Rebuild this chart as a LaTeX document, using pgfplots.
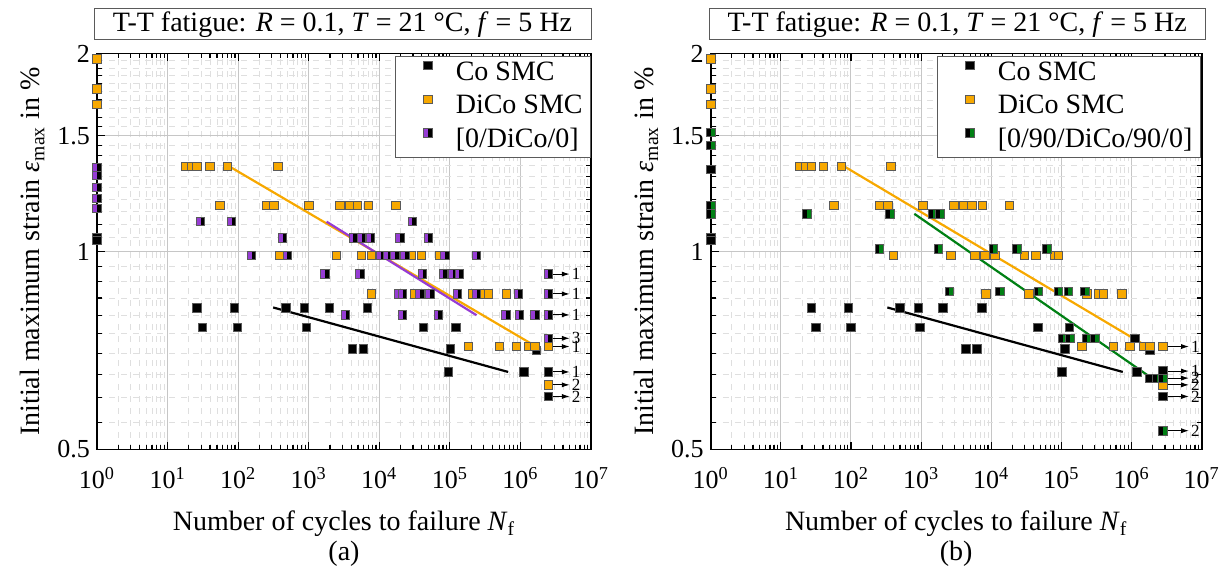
\documentclass[border=0pt]{standalone}
\usepackage{fontspec}
\setmainfont{Liberation Serif}
\usepackage{pgfplots}
\pgfplotsset{compat=1.18}
\usetikzlibrary{arrows.meta}
\definecolor{dicoOrange}{RGB}{247,168,0}
\definecolor{lamPurple}{RGB}{150,60,212}
\definecolor{lamGreen}{RGB}{0,128,20}
\definecolor{edgeGray}{RGB}{90,90,90}
\pgfdeclareplotmark{purpleblack}{%
  \pgfpathrectangle{\pgfpoint{-\pgfplotmarksize}{-\pgfplotmarksize}}{\pgfpoint{\pgfplotmarksize}{2\pgfplotmarksize}}%
  \pgfsetfillcolor{lamPurple}\pgfusepathqfill
  \pgfpathrectangle{\pgfpoint{0pt}{-\pgfplotmarksize}}{\pgfpoint{\pgfplotmarksize}{2\pgfplotmarksize}}%
  \pgfsetfillcolor{black}\pgfusepathqfill
  \pgfpathrectangle{\pgfpoint{-\pgfplotmarksize}{-\pgfplotmarksize}}{\pgfpoint{2\pgfplotmarksize}{2\pgfplotmarksize}}%
  \pgfusepathqstroke}
\pgfdeclareplotmark{blackgreen}{%
  \pgfpathrectangle{\pgfpoint{-\pgfplotmarksize}{-\pgfplotmarksize}}{\pgfpoint{\pgfplotmarksize}{2\pgfplotmarksize}}%
  \pgfsetfillcolor{black}\pgfusepathqfill
  \pgfpathrectangle{\pgfpoint{0pt}{-\pgfplotmarksize}}{\pgfpoint{\pgfplotmarksize}{2\pgfplotmarksize}}%
  \pgfsetfillcolor{lamGreen}\pgfusepathqfill
  \pgfpathrectangle{\pgfpoint{-\pgfplotmarksize}{-\pgfplotmarksize}}{\pgfpoint{2\pgfplotmarksize}{2\pgfplotmarksize}}%
  \pgfusepathqstroke}
\newcommand{\tickfs}{\fontsize{13}{15}\selectfont}
\newcommand{\labfs}{\fontsize{14}{15}\selectfont}
\newcommand{\runout}[4]{\draw[line width=0.55pt,-{Latex[length=4pt,width=2.6pt]}] (axis cs:#1,#3) -- (axis cs:#2,#3) node[right,inner sep=0.8pt,font=\fontsize{8.5}{9}\selectfont]{#4};}
\newcommand{\titletext}{T-T fatigue: \textit{R} = 0.1, \textit{T} = 21 °C, \textit{f} = 5 Hz}
\newcommand{\legsq}[2]{\path[draw=none,fill=none] (0pt,0pt) -- (26pt,0pt);
  \fill[#1,draw=none] (11.9pt,1.7pt) rectangle (14pt,5.9pt);
  \fill[#2,draw=none] (14pt,1.7pt) rectangle (16.1pt,5.9pt);
  \draw[edgeGray,line width=0.4pt,fill=none] (11.9pt,1.7pt) rectangle (16.1pt,5.9pt);}
\begin{document}
\begin{tikzpicture}
\useasboundingbox (0,0) rectangle (615pt,286.5pt);
% ---------------- (a) ----------------
\begin{axis}[
    xmode=log, ymode=log, xmin=1, xmax=1e7, ymin=0.5, ymax=2,
    scale only axis, width=247pt, height=198pt, anchor=south west, at={(48.5pt,61.75pt)},
    xtick={1,10,100,1000,10000,100000,1000000,10000000},
    xticklabels={10\textsuperscript{0},10\textsuperscript{1},10\textsuperscript{2},10\textsuperscript{3},10\textsuperscript{4},10\textsuperscript{5},10\textsuperscript{6},10\textsuperscript{7}},
    minor xtick={2,3,4,5,6,7,8,9,20,30,40,50,60,70,80,90,200,300,400,500,600,700,800,900,2000,3000,4000,5000,6000,7000,8000,9000,2e4,3e4,4e4,5e4,6e4,7e4,8e4,9e4,2e5,3e5,4e5,5e5,6e5,7e5,8e5,9e5,2e6,3e6,4e6,5e6,6e6,7e6,8e6,9e6},
    ytick={0.5,1,1.5,2}, yticklabels={0.5,1,1.5,2},
    minor ytick={0.55,0.6,0.65,0.7,0.75,0.8,0.85,0.9,0.95,1.05,1.1,1.15,1.2,1.25,1.3,1.35,1.4,1.45,1.55,1.6,1.65,1.7,1.75,1.8,1.85,1.9,1.95},
    grid=both,
    major grid style={gray!45, line width=0.5pt},
    minor grid style={gray!25, dashed, line width=0.35pt},
    tick align=inside, major tick length=4pt, minor tick length=2.5pt,
    tick style={black, line width=0.6pt},
    axis line style={line width=0.8pt},
    tick label style={font=\tickfs},
    xticklabel style={yshift=-5.5pt},
    xlabel style={font=\labfs, align=center, at={(axis description cs:0.5,0)}, anchor=center, yshift=-44.75pt},
    ylabel style={font=\labfs, at={(axis description cs:-0.1305,0.5)}, anchor=center},
    xlabel={Number of cycles to failure \textit{N}\textsubscript{f}\\(a)},
    ylabel={Initial maximum strain \textit{ε}\textsubscript{max} in \%},
    legend style={at={(rel axis cs:1,1)}, anchor=north east, draw=edgeGray, fill=white, font=\fontsize{14}{15}\selectfont, row sep=0pt, inner xsep=2pt, inner ysep=0pt, yshift=-1.25pt, nodes={text height=10.3pt, text depth=3.3pt, inner ysep=1.6pt}},
    legend cell align=left,
    clip=false]
\addplot[only marks, mark=square*, mark size=2.1pt, mark options={fill=black, draw=edgeGray, line width=0.4pt},
  legend image code/.code={\legsq{black}{black}}] coordinates {
(1,1.05) (1,1.04)
(26.2,0.821) (88.1,0.821) (475,0.821) (864,0.821) (1952,0.821) (6830,0.821)
(31,0.766) (98.4,0.766) (934,0.766) (41870,0.766) (121600,0.766)
(4131,0.711) (5916,0.711) (102300,0.711) (1.69e6,0.707)
(94620,0.656) (1.117e6,0.656) (2.47e6,0.656)
(2.47e6,0.602)};
\addlegendentry{Co SMC}
\addplot[only marks, mark=square*, mark size=2.1pt, mark options={fill=dicoOrange, draw=edgeGray, line width=0.4pt},
  legend image code/.code={\legsq{dicoOrange}{dicoOrange}}] coordinates {
(1,1.963) (1,1.767) (1,1.675)
(18.2,1.347) (22.2,1.347) (26.1,1.347) (39.9,1.347) (71,1.347) (366,1.347)
(55.2,1.174) (253,1.174) (321,1.174) (1006,1.174) (2767,1.174) (3834,1.174) (4864,1.174) (6964,1.174) (17190,1.174)
(382,0.986) (2485,0.986) (5616,0.986) (7780,0.986) (28680,0.986) (39730,0.986) (72180,0.986)
(7780,0.862) (31210,0.862) (206900,0.862) (313200,0.862) (348800,0.862) (635500,0.862)
(181600,0.717) (499200,0.717) (880700,0.717) (1.286e6,0.717) (1.6e6,0.717) (2.47e6,0.717)
(2.47e6,0.627)};
\addlegendentry{DiCo SMC}
\addplot[only marks, mark=purpleblack, mark size=2.1pt, mark options={draw=edgeGray, line width=0.4pt},
  legend image code/.code={\legsq{lamPurple}{black}}] coordinates {
(1,1.339) (1,1.305) (1,1.252) (1,1.205) (1,1.164)
(29.4,1.111) (80.9,1.111) (29240,1.111)
(427,1.048) (4268,1.048) (5616,1.048) (7530,1.048) (19570,1.048) (49280,1.048)
(155,0.986) (496,0.986) (10540,0.986) (13240,0.986) (16630,0.986) (23050,0.986) (84970,0.986) (238900,0.986)
(1696,0.924) (5313,0.924) (41050,0.924) (80380,0.924) (109200,0.924) (135400,0.924) (2.47e6,0.924)
(18520,0.862) (21380,0.862) (37580,0.862) (52080,0.862) (128600,0.862) (238900,0.862) (927800,0.862) (2.47e6,0.862)
(3332,0.801) (21380,0.801) (68290,0.801) (621200,0.801) (958500,0.801) (1.6e6,0.801) (2.47e6,0.801)
(2.47e6,0.738)};
\addlegendentry{[0/DiCo/0]}
\addplot[dicoOrange, line width=1.1pt, forget plot] coordinates {(75,1.347) (1.4e6,0.725)};
\addplot[lamPurple, line width=1.1pt, forget plot] coordinates {(1790,1.11) (2.39e5,0.80)};
\addplot[black, line width=1.1pt, forget plot] coordinates {(314,0.822) (6.7e5,0.656)};
\runout{2.88e6}{5.0e6}{0.924}{1}
\runout{2.88e6}{5.0e6}{0.862}{1}
\runout{2.88e6}{5.0e6}{0.801}{1}
\runout{2.88e6}{5.0e6}{0.738}{3}
\runout{2.88e6}{5.0e6}{0.717}{1}
\runout{2.88e6}{5.0e6}{0.656}{1}
\runout{2.88e6}{5.0e6}{0.627}{2}
\runout{2.88e6}{5.0e6}{0.602}{2}
\node[draw=edgeGray, fill=white, font=\fontsize{14}{16}\selectfont, minimum width=248.5pt, minimum height=15.5pt, inner sep=1pt, anchor=south, yshift=6.7pt, xshift=-0.75pt] at (rel axis cs:0.5,1) {\titletext};
\end{axis}
% ---------------- (b) ----------------
\begin{axis}[
    xmode=log, ymode=log, xmin=1, xmax=1e7, ymin=0.5, ymax=2,
    scale only axis, width=245.5pt, height=198pt, anchor=south west, at={(355.35pt,61.75pt)},
    xtick={1,10,100,1000,10000,100000,1000000,10000000},
    xticklabels={10\textsuperscript{0},10\textsuperscript{1},10\textsuperscript{2},10\textsuperscript{3},10\textsuperscript{4},10\textsuperscript{5},10\textsuperscript{6},10\textsuperscript{7}},
    minor xtick={2,3,4,5,6,7,8,9,20,30,40,50,60,70,80,90,200,300,400,500,600,700,800,900,2000,3000,4000,5000,6000,7000,8000,9000,2e4,3e4,4e4,5e4,6e4,7e4,8e4,9e4,2e5,3e5,4e5,5e5,6e5,7e5,8e5,9e5,2e6,3e6,4e6,5e6,6e6,7e6,8e6,9e6},
    ytick={0.5,1,1.5,2}, yticklabels={0.5,1,1.5,2},
    minor ytick={0.55,0.6,0.65,0.7,0.75,0.8,0.85,0.9,0.95,1.05,1.1,1.15,1.2,1.25,1.3,1.35,1.4,1.45,1.55,1.6,1.65,1.7,1.75,1.8,1.85,1.9,1.95},
    grid=both,
    major grid style={gray!45, line width=0.5pt},
    minor grid style={gray!25, dashed, line width=0.35pt},
    tick align=inside, major tick length=4pt, minor tick length=2.5pt,
    tick style={black, line width=0.6pt},
    axis line style={line width=0.8pt},
    tick label style={font=\tickfs},
    xticklabel style={yshift=-5.5pt},
    xlabel style={font=\labfs, align=center, at={(axis description cs:0.5,0)}, anchor=center, yshift=-44.75pt},
    ylabel style={font=\labfs, at={(axis description cs:-0.1313,0.5)}, anchor=center},
    xlabel={Number of cycles to failure \textit{N}\textsubscript{f}\\(b)},
    ylabel={Initial maximum strain \textit{ε}\textsubscript{max} in \%},
    legend style={at={(rel axis cs:1,1)}, anchor=north east, draw=edgeGray, fill=white, font=\fontsize{14}{15}\selectfont, row sep=0pt, inner xsep=2pt, inner ysep=0pt, yshift=-1.25pt, xshift=-0.5pt, nodes={text height=10.3pt, text depth=3.3pt, inner ysep=1.6pt}},
    legend cell align=left,
    clip=false]
\addplot[only marks, mark=square*, mark size=2.1pt, mark options={fill=black, draw=edgeGray, line width=0.4pt},
  legend image code/.code={\legsq{black}{black}}] coordinates {
(1,1.334) (1,1.05) (1,1.04)
(27.5,0.821) (91.6,0.821) (500,0.821) (912,0.821) (2031,0.821) (7307,0.821)
(31.4,0.766) (100,0.766) (964,0.766) (45920,0.766) (129600,0.766)
(4321,0.711) (6201,0.711) (112500,0.711) (1.83e6,0.707)
(1.12e6,0.738)
(101000,0.656) (1.185e6,0.656) (2.8e6,0.658)
(1.79e6,0.642)
(2.8e6,0.602)};
\addlegendentry{Co SMC}
\addplot[only marks, mark=square*, mark size=2.1pt, mark options={fill=dicoOrange, draw=edgeGray, line width=0.4pt},
  legend image code/.code={\legsq{dicoOrange}{dicoOrange}}] coordinates {
(1,1.963) (1,1.767) (1,1.675)
(18.8,1.347) (22.8,1.347) (27.5,1.347) (40.3,1.347) (73.7,1.347) (372,1.347)
(57.3,1.174) (253,1.174) (334,1.174) (1053,1.174) (2943,1.174) (4088,1.174) (5261,1.174) (7454,1.174) (18000,1.174)
(401,0.986) (2641,0.986) (5865,0.986) (8145,0.986) (11310,0.986) (29590,0.986) (43010,0.986) (79180,0.986) (90330,0.986)
(8333,0.862) (34510,0.862) (229500,0.862) (335800,0.862) (395800,0.862) (723900,0.862)
(194700,0.717) (549500,0.717) (950800,0.717) (1.47e6,0.717) (1.83e6,0.717) (2.8e6,0.717)
(2.8e6,0.627)};
\addlegendentry{DiCo SMC}
\addplot[only marks, mark=blackgreen, mark size=2.1pt, mark options={draw=edgeGray, line width=0.4pt},
  legend image code/.code={\legsq{black}{lamGreen}}] coordinates {
(1,1.518) (1,1.449) (1,1.174) (1,1.141)
(23.4,1.141) (360,1.141) (1463,1.141) (1859,1.141)
(253,1.009) (1758,1.009) (10690,1.009) (23050,1.009) (61710,1.009)
(2522,0.869) (13320,0.869) (46840,0.869) (90330,0.869) (125400,0.869) (217000,0.869)
(104300,0.738) (132600,0.738) (229500,0.738) (301300,0.738)
(2.28e6,0.642) (2.8e6,0.642)
(2.8e6,0.534)};
\addlegendentry{[0/90/DiCo/90/0]}
\addplot[dicoOrange, line width=1.1pt, forget plot] coordinates {(82,1.345) (1.56e6,0.72)};
\addplot[lamGreen, line width=1.1pt, forget plot] coordinates {(800,1.141) (1.94e6,0.642)};
\addplot[black, line width=1.1pt, forget plot] coordinates {(330,0.822) (7.5e5,0.656)};
\runout{3.3e6}{6.6e6}{0.717}{1}
\runout{3.3e6}{6.6e6}{0.658}{1}
\runout{3.3e6}{6.6e6}{0.642}{2}
\runout{3.3e6}{6.6e6}{0.627}{2}
\runout{3.3e6}{6.6e6}{0.602}{2}
\runout{3.3e6}{6.6e6}{0.534}{2}
\node[draw=edgeGray, fill=white, font=\fontsize{14}{16}\selectfont, minimum width=248.3pt, minimum height=15.5pt, inner sep=1pt, anchor=south, yshift=6.7pt, xshift=0.5pt] at (rel axis cs:0.5,1) {\titletext};
\end{axis}
\end{tikzpicture}
\end{document}
